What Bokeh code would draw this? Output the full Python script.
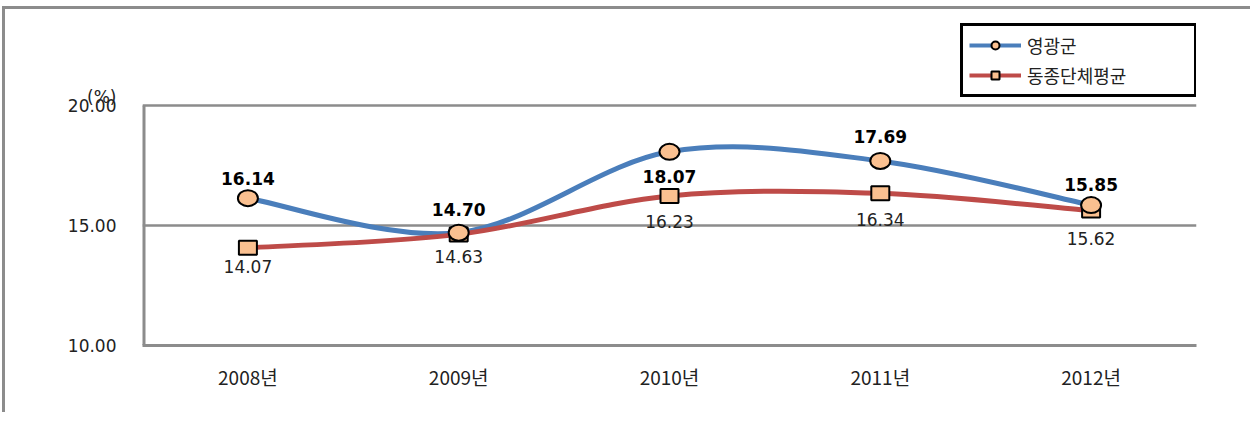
import numpy as np
from bokeh.plotting import figure
from bokeh.models import (ColumnDataSource, FixedTicker, Legend, LegendItem, Range1d)
from bokeh.core.properties import value
from bokeh.embed import file_html
from bokeh.resources import INLINE

# ---- data ----
categories = ["2008년", "2009년", "2010년", "2011년", "2012년"]
yeonggwang = [16.14, 14.70, 18.07, 17.69, 15.85]
peer_avg = [14.07, 14.63, 16.23, 16.34, 15.62]
series_names = ["영광군", "동종단체평균"]
y_ticks = [10, 15, 20]
unit_label = "(%)"

# ---- style / layout ----
BLUE = "#4A7EBB"
RED = "#BE4B48"
MARKER_FILL = "#FAC090"
GRID = "#8C8C8C"
blue_label_offset = [-20, -23, 25, -24, -21]
red_label_offset = [19, 22, 26, 26, 28]

W, H = 1248, 406
FRAME_LEFT, FRAME_RIGHT = 137, 1191        # canvas pixels
Y_TOP_PX, FRAME_BOTTOM = 96, 336            # pixel of top tick / frame bottom
px_per_unit = (FRAME_BOTTOM - Y_TOP_PX) / (max(y_ticks) - min(y_ticks))
y_end = max(y_ticks) + Y_TOP_PX / px_per_unit   # frame reaches the top of the canvas
unit_tick = max(y_ticks) + 9 / px_per_unit

xs = np.arange(len(categories)) + 0.5


def bezier_source(x, y):
    x = np.asarray(x, float)
    y = np.asarray(y, float)
    n = len(x)
    xp = np.concatenate([[x[0]], x, [x[-1]]])
    yp = np.concatenate([[y[0]], y, [y[-1]]])
    d = dict(x0=[], y0=[], x1=[], y1=[], cx0=[], cy0=[], cx1=[], cy1=[])
    for i in range(n - 1):
        p0x, p0y = xp[i], yp[i]
        p1x, p1y = xp[i + 1], yp[i + 1]
        p2x, p2y = xp[i + 2], yp[i + 2]
        p3x, p3y = xp[i + 3], yp[i + 3]
        d["x0"].append(p1x); d["y0"].append(p1y)
        d["x1"].append(p2x); d["y1"].append(p2y)
        d["cx0"].append(p1x + (p2x - p0x) / 6); d["cy0"].append(p1y + (p2y - p0y) / 6)
        d["cx1"].append(p2x - (p3x - p1x) / 6); d["cy1"].append(p2y - (p3y - p1y) / 6)
    return ColumnDataSource(d)


p = figure(width=W, height=H, output_backend="svg", toolbar_location=None,
           x_range=Range1d(0, len(categories)), y_range=Range1d(min(y_ticks), y_end),
           min_border_left=FRAME_LEFT, min_border_top=0, min_border_right=W - FRAME_RIGHT,
           min_border_bottom=H - FRAME_BOTTOM)
p.styles = {"border-left": "3px solid #8c8c8c", "border-top": "3px solid #8c8c8c",
            "margin-top": "6px", "margin-left": "2px"}
p.outline_line_color = None
p.background_fill_color = "white"
p.border_fill_color = "white"

# x axis
p.xaxis.ticker = FixedTicker(ticks=list(xs))
p.xaxis.major_label_overrides = {float(v): c for v, c in zip(xs, categories)}
p.xaxis.major_label_text_font = "Noto Sans CJK KR"
p.xaxis.major_label_text_font_size = "19px"
p.xaxis.major_label_text_color = "#222222"
p.xaxis.major_label_standoff = 17
p.xaxis.major_tick_line_color = None
p.xaxis.major_tick_out = 0
p.xaxis.minor_tick_line_color = None
p.xaxis.axis_line_color = GRID
p.xaxis.axis_line_width = 3

# y axis (unit label shown as the top tick label)
p.yaxis.ticker = FixedTicker(ticks=y_ticks + [unit_tick])
p.yaxis.major_label_overrides = {**{t: f"{t:.2f}" for t in y_ticks}, unit_tick: unit_label}
p.yaxis.major_label_text_font = "DejaVu Sans"
p.yaxis.major_label_text_font_size = "17px"
p.yaxis.major_label_text_color = "#222222"
p.yaxis.major_label_standoff = 26
p.yaxis.major_tick_out = 0
p.yaxis.major_tick_line_color = None
p.yaxis.minor_tick_line_color = None
p.yaxis.axis_line_color = None

p.xgrid.grid_line_color = None
p.ygrid.ticker = FixedTicker(ticks=y_ticks)
p.ygrid.grid_line_color = GRID
p.ygrid.grid_line_width = 2.5

# value-axis line from the lowest to the highest tick
p.segment(x0=[0], y0=[min(y_ticks)], x1=[0], y1=[max(y_ticks)],
          line_color=GRID, line_width=6)

# smoothed lines
p.bezier("x0", "y0", "x1", "y1", "cx0", "cy0", "cx1", "cy1",
         source=bezier_source(xs, yeonggwang), line_color=BLUE, line_width=5)
p.bezier("x0", "y0", "x1", "y1", "cx0", "cy0", "cx1", "cy1",
         source=bezier_source(xs, peer_avg), line_color=RED, line_width=5)

src_b = ColumnDataSource(dict(x=xs, y=yeonggwang, t=[f"{v:.2f}" for v in yeonggwang],
                              off=blue_label_offset))
src_r = ColumnDataSource(dict(x=xs, y=peer_avg, t=[f"{v:.2f}" for v in peer_avg],
                              off=red_label_offset))

p.rect("x", "y", width=18, height=14, width_units="screen", height_units="screen",
       source=src_r, fill_color=MARKER_FILL, line_color="black", line_width=2)
p.ellipse("x", "y", width=20, height=16, width_units="screen", height_units="screen",
          source=src_b, fill_color=MARKER_FILL, line_color="black", line_width=2)

p.text("x", "y", text="t", y_offset="off", source=src_b, text_align="center",
       text_baseline="middle", text_font=value("DejaVu Sans"), text_font_style="bold",
       text_font_size="17px", text_color="black")
p.text("x", "y", text="t", y_offset="off", source=src_r, text_align="center",
       text_baseline="middle", text_font=value("DejaVu Sans"),
       text_font_size="17px", text_color="#222222")

# legend proxies (NaN point so only the legend glyph is drawn)
nan = [np.nan]
lb = p.line(x=nan, y=nan, line_color=BLUE, line_width=4)
mb = p.scatter(x=nan, y=nan, marker="circle", size=12, fill_color=MARKER_FILL,
               line_color="black", line_width=2)
lr = p.line(x=nan, y=nan, line_color=RED, line_width=4)
mr = p.scatter(x=nan, y=nan, marker="square", size=11, fill_color=MARKER_FILL,
               line_color="black", line_width=2)

legend = Legend(items=[LegendItem(label=series_names[0], renderers=[lb, mb]),
                       LegendItem(label=series_names[1], renderers=[lr, mr])],
                location=(818, 248), orientation="vertical",
                border_line_color="black", border_line_width=3, border_line_alpha=1,
                background_fill_color="white", background_fill_alpha=1,
                padding=6, spacing=4, glyph_width=52, glyph_height=20,
                label_height=20, label_width=161, label_standoff=6, margin=0,
                label_text_font="Noto Sans CJK KR", label_text_font_size="18px",
                label_text_color="#222222")
p.add_layout(legend, "center")

open("out.html", "w").write(file_html(p, INLINE))
